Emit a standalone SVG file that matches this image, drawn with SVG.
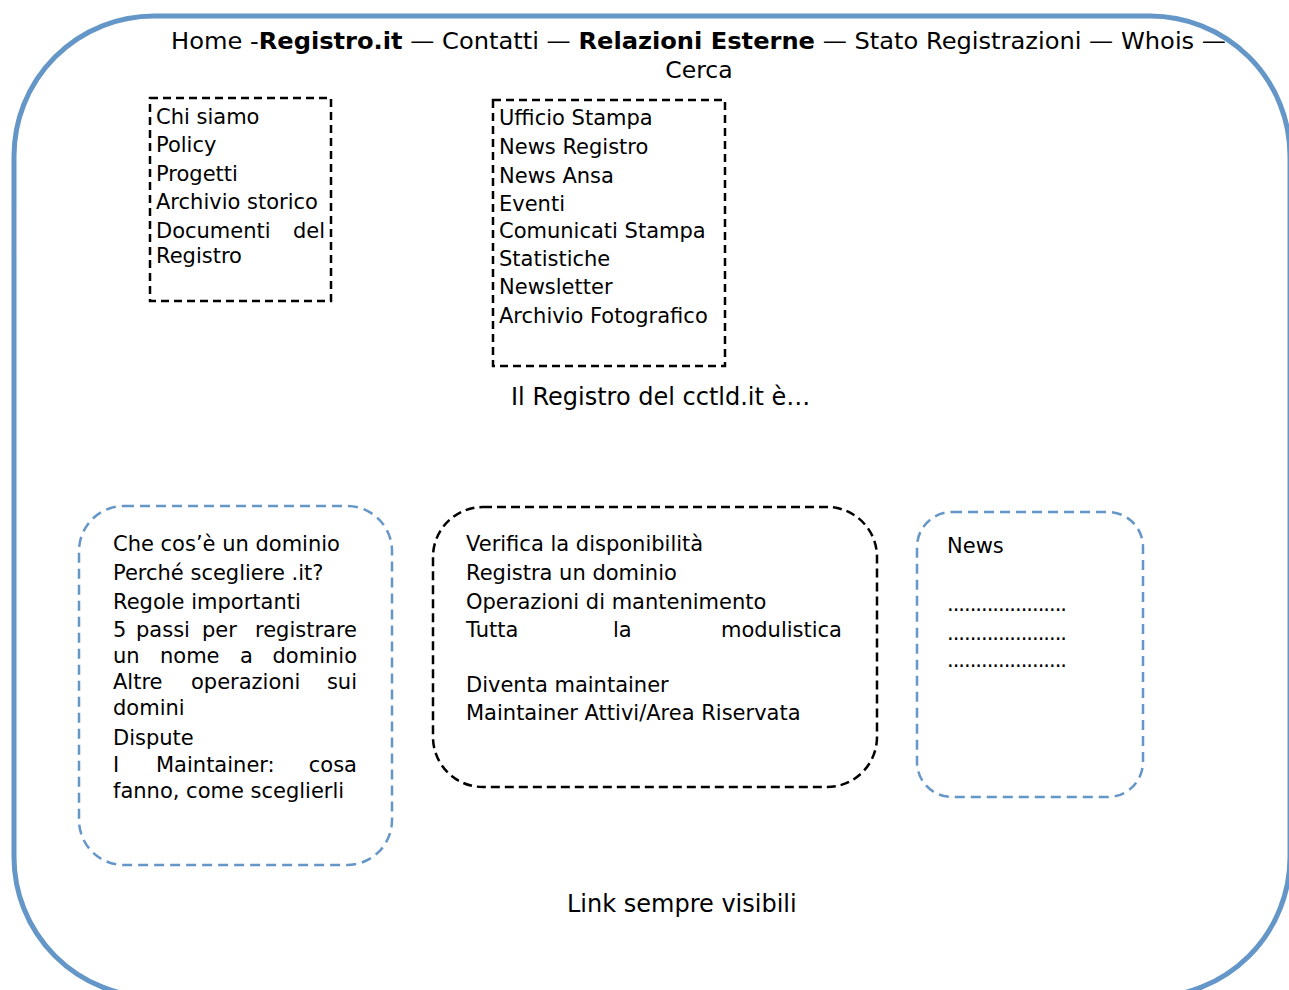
<svg xmlns="http://www.w3.org/2000/svg" width="1289" height="990" viewBox="0 0 1289 990">
<style>
text { font-family: "DejaVu Sans", Verdana, "Liberation Sans", sans-serif; font-size: 21px; fill: #000; }
.big { font-size: 23.5px; }
.big2 { font-size: 24px; }
.b { font-weight: bold; }
.e { text-anchor: end; }
.sq { fill: none; stroke: #000; stroke-width: 2.5; stroke-dasharray: 8 5; }
.rb { fill: none; stroke: #000; stroke-width: 2.5; stroke-dasharray: 9 5; }
.bl { fill: none; stroke: #6496C8; stroke-width: 2.5; stroke-dasharray: 10 6; }
</style>
<rect width="1289" height="990" fill="#fff"/>
<g id="frame">
<rect x="14" y="16" width="1276" height="981" rx="140" ry="140" fill="none" stroke="#6496C8" stroke-width="5"/>
</g>
<g id="topnav">
<text class="big" x="171" y="49" textLength="1055" lengthAdjust="spacingAndGlyphs">Home -<tspan class="b">Registro.it</tspan> — Contatti — <tspan class="b">Relazioni Esterne</tspan> — Stato Registrazioni — Whois —</text>
<text class="big" x="699" y="78" text-anchor="middle">Cerca</text>
</g>
<g id="chi-siamo">
<rect class="sq" x="150" y="98" width="181" height="203"/>
<text x="156" y="124">Chi siamo</text>
<text x="156" y="152">Policy</text>
<text x="156" y="181">Progetti</text>
<text x="156" y="209">Archivio storico</text>
<text x="156" y="238">Documenti</text><text class="e" x="325" y="238">del</text>
<text x="156" y="263">Registro</text>
</g>
<g id="relazioni">
<rect class="sq" x="493" y="100" width="232" height="266"/>
<text x="499" y="125">Ufficio Stampa</text>
<text x="499" y="154">News Registro</text>
<text x="499" y="183">News Ansa</text>
<text x="499" y="211">Eventi</text>
<text x="499" y="238">Comunicati Stampa</text>
<text x="499" y="266">Statistiche</text>
<text x="499" y="294">Newsletter</text>
<text x="499" y="323">Archivio Fotografico</text>
</g>
<g id="intro">
<text class="big2" x="511" y="405">Il Registro del cctld.it è…</text>
</g>
<g id="domini">
<rect class="bl" x="79" y="506" width="313" height="359" rx="45" ry="45"/>
<text x="113" y="551">Che cos’è un dominio</text>
<text x="113" y="580">Perché scegliere .it?</text>
<text x="113" y="609">Regole importanti</text>
<text x="113" y="637">5</text><text x="136" y="637">passi</text><text x="202" y="637">per</text><text class="e" x="357" y="637">registrare</text>
<text x="113" y="663">un</text><text x="160" y="663">nome</text><text x="240" y="663">a</text><text class="e" x="357" y="663">dominio</text>
<text x="113" y="689">Altre</text><text x="191" y="689">operazioni</text><text class="e" x="357" y="689">sui</text>
<text x="113" y="715">domini</text>
<text x="113" y="745">Dispute</text>
<text x="113" y="772">I</text><text x="156" y="772">Maintainer:</text><text class="e" x="357" y="772">cosa</text>
<text x="113" y="798">fanno, come sceglierli</text>
</g>
<g id="servizi">
<rect class="rb" x="433" y="507" width="444" height="280" rx="50" ry="50"/>
<text x="466" y="551">Verifica la disponibilità</text>
<text x="466" y="580">Registra un dominio</text>
<text x="466" y="609">Operazioni di mantenimento</text>
<text x="466" y="637">Tutta</text><text x="613" y="637">la</text><text class="e" x="842" y="637">modulistica</text>
<text x="466" y="692">Diventa maintainer</text>
<text x="466" y="720">Maintainer Attivi/Area Riservata</text>
</g>
<g id="news">
<rect class="bl" x="917" y="512" width="226" height="285" rx="35" ry="35"/>
<text x="947" y="553">News</text>
<text x="947" y="611" textLength="120" lengthAdjust="spacing">.....................</text>
<text x="947" y="640" textLength="120" lengthAdjust="spacing">.....................</text>
<text x="947" y="667" textLength="120" lengthAdjust="spacing">.....................</text>
</g>
<g id="footer">
<text class="big2" x="567" y="912">Link sempre visibili</text>
</g>
<g id="connectors"></g>
</svg>
